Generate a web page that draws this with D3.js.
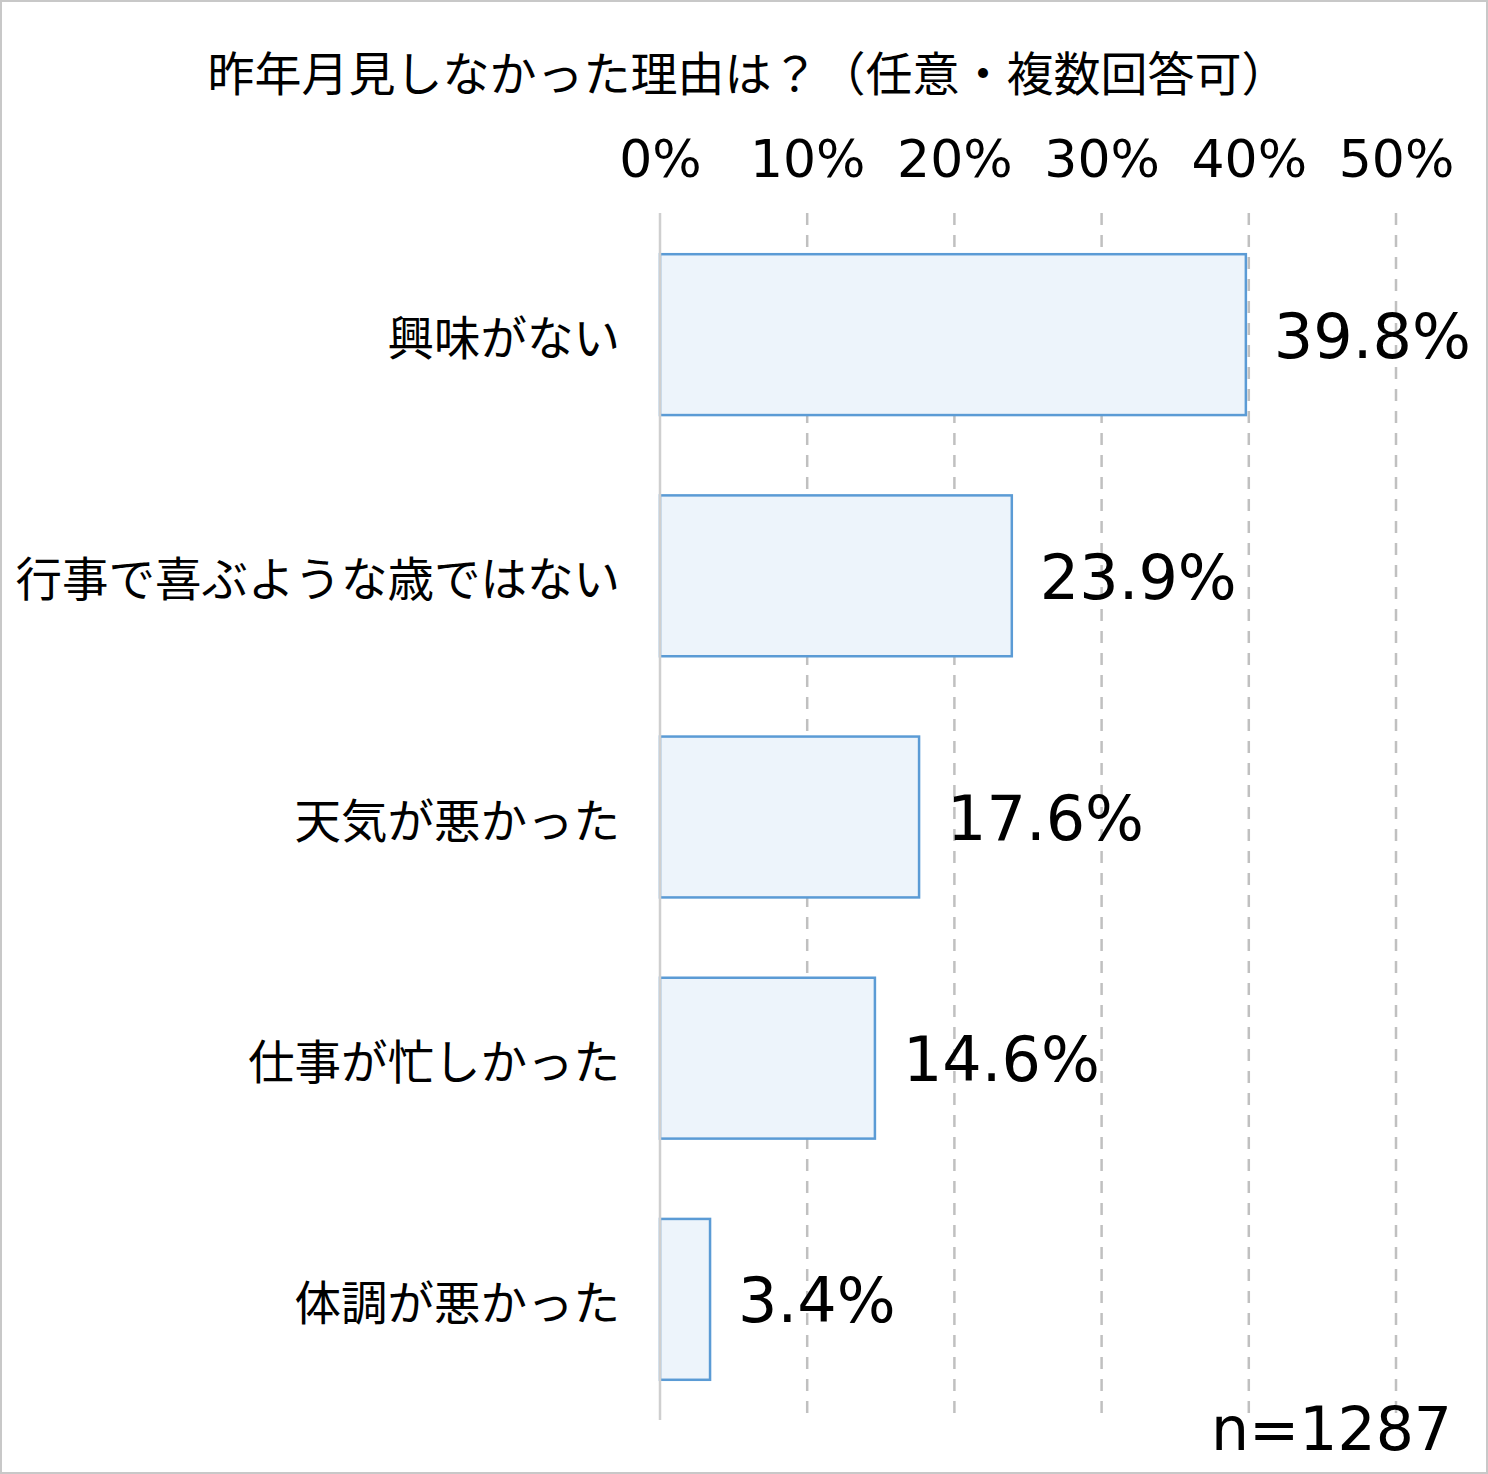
<!DOCTYPE html>
<html><head><meta charset="utf-8">
<script src="https://cdn.jsdelivr.net/npm/d3@7"></script>
<style>html,body{margin:0;padding:0;background:#fff;}svg{display:block;}</style>
</head><body>
<script>
const title = "昨年月見しなかった理由は？（任意・複数回答可）";
const categories = ["興味がない","行事で喜ぶような歳ではない","天気が悪かった","仕事が忙しかった","体調が悪かった"];
const values = [39.8, 23.9, 17.6, 14.6, 3.4];
const tickValues = [0, 10, 20, 30, 40, 50];
const note = "n=1287";

const W = 1488, H = 1474;
const jp = "'Noto Sans CJK JP', sans-serif";
const num = "'DejaVu Sans', 'Noto Sans', sans-serif";

const svg = d3.select("body").append("svg").attr("width", W).attr("height", H);
svg.append("rect").attr("x",1).attr("y",1).attr("width",W-2).attr("height",H-2)
  .attr("fill","#fff").attr("stroke","#c8c8c8").attr("stroke-width",2);

const x = d3.scaleLinear().domain([0,50]).range([660,1396]);
const y = d3.scaleBand().domain(categories).range([214,1420]).paddingInner(0.333).paddingOuter(0.1667);

svg.append("text").attr("x",748).attr("y",70).attr("text-anchor","middle").attr("dominant-baseline","central")
  .attr("font-family",jp).attr("font-size",47).attr("fill","#000").text(title);

// gridlines
const g = svg.append("g");
g.selectAll("line.grid").data(tickValues.filter(d=>d>0)).join("line").attr("class","grid")
  .attr("x1",d=>x(d)).attr("x2",d=>x(d)).attr("y1",213).attr("y2",1420)
  .attr("stroke","#c0c0c0").attr("stroke-width",2.5).attr("stroke-dasharray","12,10");

// bars
svg.selectAll("rect.bar").data(values).join("rect").attr("class","bar")
  .attr("x",x(0)).attr("y",(d,i)=>y(categories[i])).attr("width",d=>x(d)-x(0)).attr("height",y.bandwidth())
  .attr("fill","#edf4fb").attr("stroke","#5b9bd5").attr("stroke-width",2.5);

// zero line
svg.append("line").attr("x1",x(0)).attr("x2",x(0)).attr("y1",213).attr("y2",1420)
  .attr("stroke","#cfcfcf").attr("stroke-width",2.5);

// top axis labels
const axis = d3.axisTop(x).tickValues(tickValues).tickFormat(d=>d+"%").tickSize(0);
const ag = svg.append("g").attr("transform","translate(0,180)").call(axis);
ag.select(".domain").remove();
ag.selectAll("text").attr("font-family",num).attr("font-size",52).attr("fill","#000").attr("dy",0);

// category labels
svg.selectAll("text.cat").data(categories).join("text").attr("class","cat")
  .attr("x",620).attr("y",d=>y(d)+y.bandwidth()/2).attr("text-anchor","end").attr("dominant-baseline","central")
  .attr("font-family",jp).attr("font-size",46.5).attr("fill","#000").text(d=>d);

// value labels
svg.selectAll("text.val").data(values).join("text").attr("class","val")
  .attr("x",d=>x(d)+28).attr("y",(d,i)=>y(categories[i])+y.bandwidth()/2+23).attr("text-anchor","start")
  .attr("font-family",num).attr("font-size",62).attr("fill","#000").text(d=>d.toFixed(1)+"%");

svg.append("text").attr("x",1452).attr("y",1450).attr("text-anchor","end")
  .attr("font-family",num).attr("font-size",60).attr("fill","#000").text(note);
</script>
</body></html>
